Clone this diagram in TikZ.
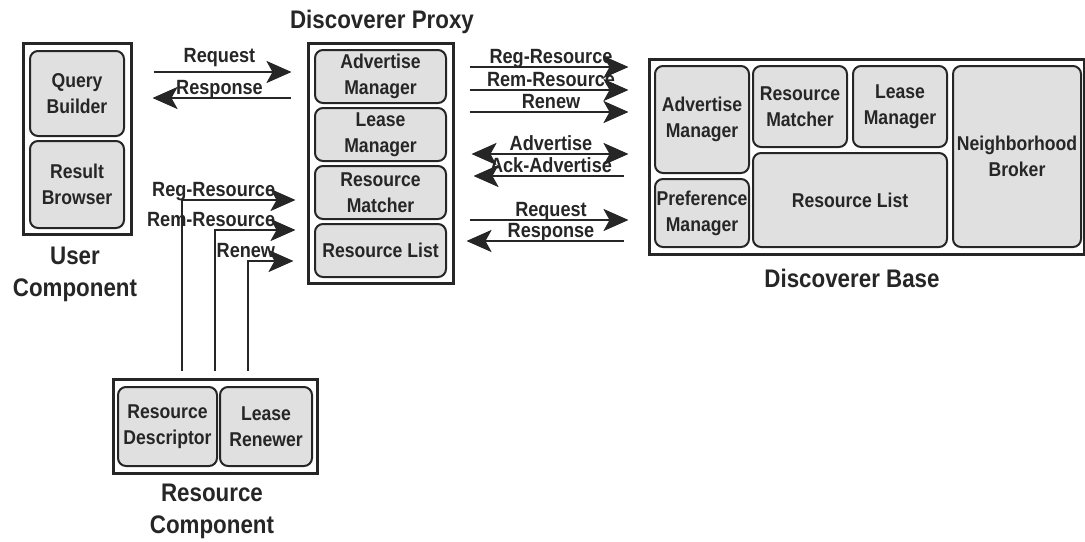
\documentclass[tikz,border=0pt]{standalone}
\usepackage{fontspec}
\setmainfont{Liberation Sans}[FakeStretch=0.88]
\usetikzlibrary{arrows.meta}
\colorlet{inx}{black!12}
\colorlet{inkx}{black!85}
\tikzset{
    outerbox/.style={draw=inkx,line width=1.5pt,inner sep=0pt},
    partbox/.style={draw=inkx,fill=inx,line width=1pt,rounded corners=4pt,inner sep=0pt,align=center,
        text=inkx,font=\fontsize{10}{13}\selectfont\bfseries},
    boxtitle/.style={align=center,text=inkx,font=\fontsize{12.7}{16}\selectfont\bfseries},
    flowarrow/.style={draw=inkx,line width=1.4pt,>={Stealth[length=12.5pt,width=11pt,inset=3pt]}},
    flowtag/.style={inner sep=1pt,text height=7.5pt,text depth=0pt,text=inkx,font=\fontsize{10.3}{11}\selectfont\bfseries}
}

\begin{document}
\begin{tikzpicture}[x=0.5pt,y=-0.5pt]
    \useasboundingbox (0,0) rectangle (1085,541);
    % user component
    \node [outerbox,minimum width=54pt,minimum height=95.5pt] (ucomp) at (77,138.5) {};
    \node [partbox,minimum width=47pt,minimum height=42.5pt] (qbuild) at (77,93.5) {Query\\Builder};
    \node [partbox,minimum width=47pt,minimum height=43.5pt] (rbrowse) at (77,184.5) {Result\\Browser};
    \node [boxtitle] (ulabel) at (75,274) {User\\Component};
    % discoverer proxy
    \node [outerbox,minimum width=72.5pt,minimum height=120pt] (proxy) at (380.5,163) {};
    \node [boxtitle] (plabel) at (382,22) {Discoverer Proxy};
    \foreach \n/\t [count=\i from 0] in {padv/{Advertise\\Manager},please/{Lease\\Manager},pmatch/{Resource\\Matcher},plist/{Resource List}} {
        \node [partbox,minimum width=65.5pt,minimum height=26.5pt] (\n) at (380.5,76.5+58*\i) {\t};
    }
    % discoverer base
    \node [outerbox,minimum width=217.5pt,minimum height=97.5pt] (base) at (866.5,156.5) {};
    \node [boxtitle] (blabel) at (852,278) {Discoverer Base};
    \node [partbox,minimum width=47pt,minimum height=53.5pt] (badv) at (702,119.5) {Advertise\\Manager};
    \node [partbox,minimum width=47pt,minimum height=34pt] (bpref) at (702,213) {Preference\\Manager};
    \node [partbox,minimum width=47pt,minimum height=40.5pt] (bmatch) at (800,106.5) {Resource\\Matcher};
    \node [partbox,minimum width=47pt,minimum height=40.5pt] (blease) at (900,106.5) {Lease\\Manager};
    \node [partbox,minimum width=97pt,minimum height=47pt] (blist) at (850,200) {Resource List};
    \node [partbox,minimum width=64pt,minimum height=90.5pt] (bneigh) at (1017,156.5) {Neighborhood\\Broker};
    % resource component
    \node [outerbox,minimum width=102pt,minimum height=47pt] (rcomp) at (215,426) {};
    \node [partbox,minimum width=49.5pt,minimum height=39.5pt] (rdesc) at (167.5,426.5) {Resource\\Descriptor};
    \node [partbox,minimum width=46pt,minimum height=39.5pt] (lrenew) at (266,426.5) {Lease\\Renewer};
    \node [boxtitle] (rlabel) at (212,511) {Resource\\Component};
    % user <-> proxy
    \draw [flowarrow,->,shorten <=10.5pt,shorten >=7.5pt] (ucomp.east |- 0,72) -- node [flowtag,above,yshift=3pt] {Request} (proxy.west |- 0,72);
    \draw [flowarrow,<-,shorten <=10pt,shorten >=8pt] (ucomp.east |- 0,98) -- node [flowtag,above] {Response} (proxy.west |- 0,98);
    % resource component -> proxy
    \draw [flowarrow,->,shorten <=3.5pt,shorten >=5.5pt] (rcomp.north -| 182,0) |- (proxy.west |- 0,200)
        node [flowtag,anchor=south east,xshift=-14pt] {Reg-Resource};
    \draw [flowarrow,->,shorten <=3.5pt,shorten >=5.5pt] (rcomp.north -| 215,0) |- (proxy.west |- 0,230)
        node [flowtag,anchor=south east,xshift=-14pt] {Rem-Resource};
    \draw [flowarrow,->,shorten <=3.5pt,shorten >=6.5pt] (rcomp.north -| 248,0) |- (proxy.west |- 0,261)
        node [flowtag,anchor=south east,xshift=-14pt] {Renew};
    % proxy <-> base
    \draw [flowarrow,->,shorten <=7.5pt,shorten >=9.5pt] (proxy.east |- 0,67) -- node [flowtag,above] {Reg-Resource} (base.west |- 0,67);
    \draw [flowarrow,->,shorten <=7.5pt,shorten >=9.5pt] (proxy.east |- 0,90) -- node [flowtag,above] {Rem-Resource} (base.west |- 0,90);
    \draw [flowarrow,->,shorten <=7.5pt,shorten >=9.5pt] (proxy.east |- 0,112) -- node [flowtag,above] {Renew} (base.west |- 0,112);
    \draw [flowarrow,<->,shorten <=8.5pt,shorten >=9.5pt] (proxy.east |- 0,154) -- node [flowtag,above] {Advertise} (base.west |- 0,154);
    \draw [flowarrow,<-,shorten <=9.5pt,shorten >=12pt] (proxy.east |- 0,176) -- node [flowtag,above] {Ack-Advertise} (base.west |- 0,176);
    \draw [flowarrow,->,shorten <=7.5pt,shorten >=9.5pt] (proxy.east |- 0,220) -- node [flowtag,above] {Request} (base.west |- 0,220);
    \draw [flowarrow,<-,shorten <=6pt,shorten >=12pt] (proxy.east |- 0,241) -- node [flowtag,above] {Response} (base.west |- 0,241);
\end{tikzpicture}
\end{document}
